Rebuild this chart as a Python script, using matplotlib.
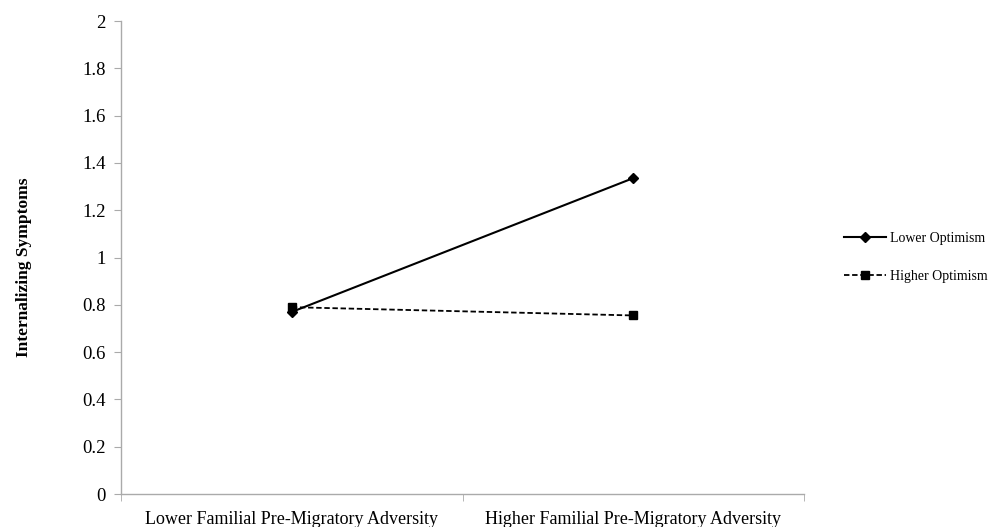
import numpy as np
import matplotlib.pyplot as plt

# data
categories = ['Lower Familial Pre-Migratory Adversity', 'Higher Familial Pre-Migratory Adversity']
lower_optimism = [0.77, 1.336]
higher_optimism = [0.79, 0.755]
y_ticks = [0, 0.2, 0.4, 0.6, 0.8, 1, 1.2, 1.4, 1.6, 1.8, 2]
y_labels = ['0', '0.2', '0.4', '0.6', '0.8', '1', '1.2', '1.4', '1.6', '1.8', '2']

plt.rcParams['font.family'] = ['Liberation Serif', 'DejaVu Serif']

fig = plt.figure(figsize=(9.88, 5.27), dpi=100)
ax = fig.add_axes([0.1225, 0.0626, 0.6915, 0.8975])

x = np.arange(len(categories))
ax.plot(x, lower_optimism, color='black', linestyle='-', linewidth=1.5,
        marker='D', markersize=5, label='Lower Optimism')
ax.plot(x, higher_optimism, color='black', linestyle=(0, (3, 1.5)), linewidth=1.3,
        marker='s', markersize=6, label='Higher Optimism')

ax.set_xlim(-0.5, 1.5)
ax.set_ylim(0, 2)
ax.set_yticks(y_ticks)
ax.set_yticklabels(y_labels, fontsize=13.5)
ax.set_xticks(x)
ax.set_xticklabels(categories, fontsize=13)
ax.tick_params(axis='x', length=0, pad=12)
ax.set_xticks([-0.5, 0.5, 1.5], minor=True)
ax.tick_params(axis='x', which='minor', length=5, color='#aaaaaa')
ax.tick_params(axis='y', length=5, color='#aaaaaa', pad=6)

for side in ['top', 'right']:
    ax.spines[side].set_visible(False)
for side in ['left', 'bottom']:
    ax.spines[side].set_color('#aaaaaa')
    ax.spines[side].set_linewidth(1)

ax.set_ylabel('Internalizing Symptoms', fontsize=12.5, fontweight='bold', labelpad=36)
ax.yaxis.set_label_coords(-0.13, 0.48)

ax.legend(loc='center left', bbox_to_anchor=(1.04, 0.5), frameon=False,
          fontsize=10, labelspacing=1.8, handlelength=3.0, handletextpad=0.3)

plt.savefig('out.png', dpi=100)
